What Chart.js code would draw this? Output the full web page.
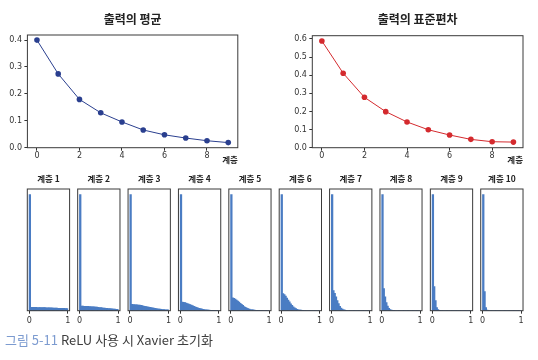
<!DOCTYPE html>
<html>
<head>
<meta charset="utf-8">
<script src="https://cdn.jsdelivr.net/npm/chart.js@4.4.1/dist/chart.umd.min.js"></script>
<style>
  body { margin: 0; background: #fff; width: 538px; height: 360px; position: relative; overflow: hidden; }
  canvas { position: absolute; }
  #caption { position: absolute; left: 5px; top: 333px; font: 13px 'Noto Sans CJK KR', sans-serif; line-height: 14px; color: #3d3d3d; white-space: nowrap; }
  #caption span { color: #7c9bd0; }
</style>
</head>
<body>
<canvas id="meanChart" width="268" height="170" style="left:0;top:0"></canvas>
<canvas id="stdChart" width="270" height="170" style="left:268px;top:0"></canvas>
<div id="histWrap"></div>
<div id="caption"><span>그림 5-11</span> ReLU 사용 시 Xavier 초기화</div>
<script>
// top row: activation mean / std per layer
var layers = [0, 1, 2, 3, 4, 5, 6, 7, 8, 9];
var meanValues = [0.400, 0.274, 0.179, 0.129, 0.095, 0.065, 0.047, 0.035, 0.025, 0.018];
var stdValues = [0.589, 0.411, 0.278, 0.199, 0.142, 0.099, 0.070, 0.046, 0.033, 0.031];
var layerTicks = [0, 2, 4, 6, 8];
var meanTicks = [0, 0.1, 0.2, 0.3, 0.4];
var stdTicks = [0, 0.1, 0.2, 0.3, 0.4, 0.5, 0.6];

// bottom row: 30-bin histograms of activations (0..1), first bin scaled to 1000
var histTitles = ['계층 1', '계층 2', '계층 3', '계층 4', '계층 5', '계층 6', '계층 7', '계층 8', '계층 9', '계층 10'];
var histTicks = [0, 1];
var hist1 = [1000, 27, 27, 27, 27, 27, 26, 26, 26, 26, 25, 25, 25, 24, 24, 24, 23, 23, 22, 22, 21, 21, 20, 20, 19, 19, 18, 18, 17, 17];
var hist2 = [1000, 38, 38, 37, 37, 36, 36, 35, 34, 33, 32, 31, 30, 29, 28, 26, 25, 24, 22, 21, 20, 19, 17, 16, 15, 14, 13, 12, 11, 10];
var hist3 = [1000, 53, 52, 52, 50, 49, 47, 46, 44, 42, 39, 37, 35, 32, 30, 28, 25, 23, 21, 19, 17, 15, 13, 12, 10, 9, 8, 7, 6, 5];
var hist4 = [1000, 72, 70, 68, 64, 61, 56, 52, 47, 42, 37, 32, 28, 24, 20, 17, 14, 11, 9, 7, 5, 4, 3, 2, 2, 1, 1, 1, 0, 0];
var hist5 = [1000, 110, 105, 99, 91, 82, 72, 62, 53, 44, 35, 28, 22, 17, 12, 9, 6, 5, 3, 2, 1, 1, 1, 0, 0, 0, 0, 0, 0, 0];
var hist6 = [1000, 147, 137, 124, 108, 91, 74, 58, 44, 33, 23, 16, 11, 7, 4, 3, 1, 1, 0, 0, 0, 0, 0, 0, 0, 0, 0, 0, 0, 0];
var hist7 = [1000, 173, 148, 118, 86, 59, 37, 22, 12, 6, 3, 1, 0, 0, 0, 0, 0, 0, 0, 0, 0, 0, 0, 0, 0, 0, 0, 0, 0, 0];
var hist8 = [1000, 190, 118, 68, 38, 20, 9, 4, 2, 1, 0, 0, 0, 0, 0, 0, 0, 0, 0, 0, 0, 0, 0, 0, 0, 0, 0, 0, 0, 0];
var hist9 = [1000, 207, 86, 26, 8, 2, 1, 0, 0, 0, 0, 0, 0, 0, 0, 0, 0, 0, 0, 0, 0, 0, 0, 0, 0, 0, 0, 0, 0, 0];
var hist10 = [1000, 164, 26, 4, 1, 0, 0, 0, 0, 0, 0, 0, 0, 0, 0, 0, 0, 0, 0, 0, 0, 0, 0, 0, 0, 0, 0, 0, 0, 0];
var histData = [hist1, hist2, hist3, hist4, hist5, hist6, hist7, hist8, hist9, hist10];

var tickFont = { family: 'DejaVu Sans', size: 8 };
var korFont = 'Noto Sans CJK KR';
var inkColor = '#333';

// matplotlib-like box around the axes
var framePlugin = {
  id: 'frame',
  afterDraw: function (chart) {
    var a = chart.chartArea;
    var ctx = chart.ctx;
    ctx.save();
    ctx.strokeStyle = '#3a3a3a';
    ctx.lineWidth = 1;
    ctx.strokeRect(a.left, a.top, a.right - a.left, a.bottom - a.top);
    ctx.restore();
  }
};

function fixedTicks(values) {
  return function (scale) {
    scale.ticks = values.map(function (v) { return { value: v }; });
  };
}

function lineChart(id, title, values, yTicks, yMin, yMax, color, yWidth, padRight, titlePad) {
  return new Chart(document.getElementById(id), {
    type: 'line',
    data: {
      datasets: [{
        data: layers.map(function (l, i) { return { x: l, y: values[i] }; }),
        borderColor: color,
        backgroundColor: color,
        borderWidth: 1,
        pointRadius: 2.8,
        pointBorderWidth: 0,
        pointBackgroundColor: color,
        tension: 0
      }]
    },
    options: {
      responsive: false,
      animation: false,
      layout: { padding: { left: 0, right: padRight, top: 0, bottom: 0 } },
      plugins: {
        legend: { display: false },
        tooltip: { enabled: false },
        title: {
          display: true, text: title, fullSize: false, color: '#222',
          font: { family: korFont, size: 12, weight: 'bold' },
          padding: titlePad
        }
      },
      scales: {
        x: {
          type: 'linear', min: -0.45, max: 9.45,
          afterBuildTicks: fixedTicks(layerTicks),
          afterFit: function (s) { s.height = 22.3; },
          grid: { drawOnChartArea: false, tickLength: 3, color: inkColor },
          border: { display: false },
          ticks: { font: tickFont, color: inkColor, padding: 0, maxRotation: 0 },
          title: {
            display: true, text: '계층', align: 'end', color: '#222',
            font: { family: korFont, size: 8.5, weight: 'bold' },
            padding: { top: 0, bottom: 4.9 }
          }
        },
        y: {
          min: yMin, max: yMax,
          afterBuildTicks: fixedTicks(yTicks),
          afterFit: function (s) { s.width = yWidth; },
          grid: { drawOnChartArea: false, tickLength: 3, color: inkColor },
          border: { display: false },
          ticks: { font: tickFont, color: inkColor, padding: 2.4, callback: function (v) { return v.toFixed(1); } }
        }
      }
    },
    plugins: [framePlugin]
  });
}

lineChart('meanChart', '출력의 평균', meanValues, meanTicks, -0.001, 0.419, '#2a3f8f', 27.4, 30.2, { top: 12.3, bottom: 8.3 });
lineChart('stdChart', '출력의 표준편차', stdValues, stdTicks, 0, 0.618, '#d42a2e', 44.3, 15, { top: 12.3, bottom: 9.0 });

// histograms
var binCount = 30;
var binCenters = [];
for (var b = 0; b < binCount; b++) binCenters.push((b + 0.5) / binCount);

var wrap = document.getElementById('histWrap');
histData.forEach(function (counts, i) {
  var panelLeft = 27.3 + i * 50.38;
  var panelWidth = 42.3;
  var canvasLeft = Math.floor(panelLeft) - 4;
  var canvasWidth = 50;
  var canvas = document.createElement('canvas');
  canvas.width = canvasWidth;
  canvas.height = 165;
  canvas.style.left = canvasLeft + 'px';
  canvas.style.top = '165px';
  wrap.appendChild(canvas);

  var padLeft = panelLeft - canvasLeft;
  new Chart(canvas, {
    type: 'bar',
    data: {
      datasets: [{
        data: counts.map(function (c, k) { return { x: binCenters[k], y: c }; }),
        backgroundColor: '#4a7cc3',
        borderWidth: 0,
        inflateAmount: 0.5,
        barPercentage: 1,
        categoryPercentage: 1
      }]
    },
    options: {
      responsive: false,
      animation: false,
      layout: { padding: { left: padLeft, right: canvasWidth - padLeft - panelWidth, top: 0, bottom: 0 } },
      plugins: {
        legend: { display: false },
        tooltip: { enabled: false },
        title: {
          display: true, text: histTitles[i], fullSize: false, color: '#222',
          font: { family: korFont, size: 8.5, weight: 'bold' },
          padding: { top: 8.9, bottom: 4.9 }
        }
      },
      scales: {
        x: {
          type: 'linear', min: -0.05, max: 1.05, offset: false,
          afterBuildTicks: fixedTicks(histTicks),
          afterFit: function (s) { s.height = 19.3; },
          grid: { drawOnChartArea: false, tickLength: 3, color: inkColor, offset: false },
          border: { display: false },
          ticks: { font: tickFont, color: inkColor, padding: 2.2, maxRotation: 0 }
        },
        y: { display: false, min: 0, max: 1050 }
      }
    },
    plugins: [framePlugin]
  });
});
</script>
</body>
</html>
